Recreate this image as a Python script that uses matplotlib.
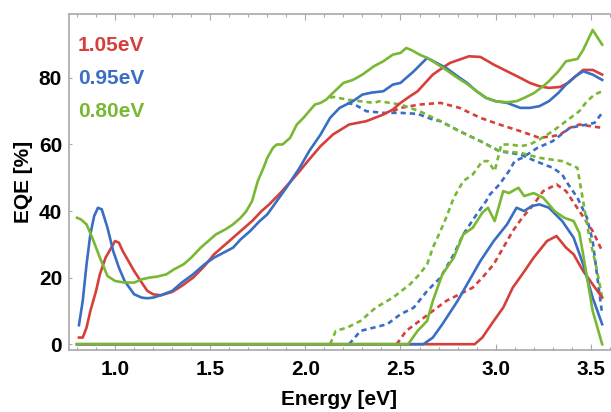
import matplotlib
matplotlib.use("Agg")
import matplotlib.pyplot as plt
from matplotlib.ticker import MultipleLocator

plt.rcParams["font.family"] = ["Liberation Sans", "DejaVu Sans"]

RED = "#d6403a"
BLUE = "#3a6ec4"
GREEN = "#79b833"

labels = ["1.05eV", "0.95eV", "0.80eV"]

# ---- total EQE (solid) ----
e_red_tot = [0.81, 0.83, 0.85, 0.87, 0.90, 0.92, 0.95, 0.97, 1.00, 1.02, 1.04, 1.07, 1.10, 1.14, 1.17,
             1.20, 1.24, 1.30, 1.35, 1.41, 1.47, 1.52, 1.57, 1.62, 1.67, 1.72, 1.77, 1.81, 1.87, 1.94,
             1.97, 2.02, 2.08, 2.145, 2.23, 2.32, 2.41, 2.46, 2.50, 2.55, 2.59, 2.63, 2.67, 2.72, 2.76,
             2.81, 2.86, 2.92, 2.96, 2.99, 3.06, 3.13, 3.18, 3.23, 3.28, 3.34, 3.38, 3.41, 3.46, 3.51, 3.56]
q_red_tot = [2, 2, 5, 10, 16, 21, 26, 28, 31, 30.5, 28, 25, 22, 18.5, 16,
             15, 14.7, 15.7, 17.5, 20, 23.5, 27, 29.5, 32, 34.5, 37, 40, 42, 45.5, 50,
             52, 55.5, 59.5, 63, 66, 67, 69, 70.5, 72.5, 74.5, 76, 78.5, 81, 83, 84.5,
             85.5, 86.5, 86.3, 85, 84, 82, 80, 78.5, 77.5, 77, 77.3, 78.5, 80, 82.4, 82.4, 81]

e_blue_tot = [0.81, 0.83, 0.85, 0.87, 0.89, 0.91, 0.93, 0.96, 0.99, 1.02, 1.05, 1.10, 1.14, 1.17, 1.20,
              1.24, 1.30, 1.35, 1.41, 1.47, 1.52, 1.57, 1.62, 1.66, 1.71, 1.76, 1.80, 1.85, 1.90, 1.97,
              2.02, 2.08, 2.13, 2.18, 2.25, 2.30, 2.35, 2.41, 2.46, 2.50, 2.57, 2.64, 2.69, 2.74, 2.80,
              2.85, 2.90, 2.95, 3.00, 3.06, 3.13, 3.18, 3.23, 3.28, 3.33, 3.37, 3.42, 3.46, 3.51, 3.56]
q_blue_tot = [5.7, 13, 24, 33, 38.5, 41, 40.5, 35, 28, 23, 19, 15, 14, 13.8, 14,
              14.7, 16, 18.5, 21, 24, 26, 27.5, 29, 31.5, 34, 37, 39, 43, 47, 53,
              58, 63, 68, 71, 73, 75, 75.6, 76, 78, 78.5, 82, 86, 84.5, 83, 80.5,
              78.5, 76, 74, 73, 72.5, 71, 71, 71.5, 73, 75.5, 78, 80.5, 82, 81, 79.4]

e_green_tot = [0.80, 0.82, 0.85, 0.88, 0.92, 0.96, 1.00, 1.04, 1.10, 1.14, 1.18, 1.22, 1.27, 1.31, 1.36,
               1.40, 1.45, 1.49, 1.53, 1.58, 1.62, 1.66, 1.69, 1.72, 1.75, 1.78, 1.80, 1.83, 1.85, 1.88,
               1.92, 1.955, 1.99, 2.02, 2.05, 2.08, 2.11, 2.145, 2.20, 2.25, 2.30, 2.36, 2.41, 2.46, 2.50,
               2.53, 2.56, 2.60, 2.64, 2.67, 2.74, 2.80, 2.85, 2.90, 2.95, 3.00, 3.06, 3.11, 3.15, 3.20,
               3.25, 3.28, 3.33, 3.37, 3.43, 3.46, 3.51, 3.56]
q_green_tot = [38, 37.5, 36, 32, 26, 20.5, 19, 18.6, 18.5, 19.5, 20, 20.3, 21, 22.5, 24,
               26, 29, 31, 33, 34.5, 36, 38, 40, 43, 49, 53, 56, 59, 60, 60,
               62, 66, 68, 70, 72, 72.5, 73.5, 75.5, 78.5, 79.4, 81, 83.5, 85, 87, 87.5,
               89, 88.3, 87, 86, 85, 82.4, 80, 78.2, 76, 74, 73, 72.7, 73, 74, 75.4,
               77.5, 79, 82, 85, 85.7, 88.4, 94.4, 90]

# ---- sub-cell EQE (solid) ----
e_red_sub = [0.80, 2.89, 2.93, 2.99, 3.04, 3.09, 3.14, 3.20, 3.27, 3.32, 3.37, 3.41, 3.46, 3.51, 3.56]
q_red_sub = [0, 0, 2, 7, 11, 17, 21, 26, 31, 32.5, 29, 27, 22, 18, 14]

e_blue_sub = [0.80, 2.62, 2.67, 2.72, 2.80, 2.85, 2.92, 2.99, 3.06, 3.11, 3.15, 3.19, 3.23, 3.28, 3.35,
              3.41, 3.46, 3.51, 3.56]
q_blue_sub = [0, 0, 2, 6, 13, 18, 25, 31, 36, 41, 40, 41.5, 42, 41, 37,
              32, 24, 14, 6]

e_green_sub = [0.80, 2.54, 2.59, 2.64, 2.67, 2.72, 2.78, 2.83, 2.88, 2.93, 2.96, 2.995, 3.04, 3.07, 3.12,
               3.15, 3.20, 3.25, 3.31, 3.36, 3.41, 3.44, 3.46, 3.51, 3.56]
q_green_sub = [0, 0, 4, 7, 13, 21, 26, 33, 35, 39.5, 41, 37, 46, 45.4, 47,
               44.5, 45.4, 44, 40, 38, 37, 33.4, 27, 10, 0]

# ---- simulated curves (dashed), falling branch ----
e_red_fall = [2.46, 2.50, 2.60, 2.71, 2.81, 2.92, 3.02, 3.13, 3.23, 3.30, 3.34, 3.39, 3.44, 3.50, 3.56]
q_red_fall = [70, 71, 72, 72.5, 71, 68, 66, 64, 62, 62.5, 63, 65, 66, 65.5, 65]

e_blue_fall = [2.22, 2.26, 2.32, 2.41, 2.50, 2.59, 2.67, 2.71, 2.81, 2.92, 3.02, 3.13, 3.21, 3.30, 3.35,
               3.37, 3.43, 3.48, 3.51, 3.56]
q_blue_fall = [72.5, 72, 70, 69.5, 69.5, 69.2, 67.5, 67, 64, 61, 58, 57, 55, 53, 51,
               49, 44, 38, 31, 9]

e_green_fall = [2.13, 2.145, 2.23, 2.36, 2.39, 2.50, 2.60, 2.71, 2.81, 2.92, 3.02, 3.13, 3.23, 3.35, 3.43,
                3.46, 3.49, 3.53, 3.56]
q_green_fall = [74, 74.3, 73.4, 72.5, 73, 72, 70, 67, 64, 61, 58, 57.5, 56, 55, 53,
                43, 33, 23, 14]

# ---- simulated curves (dashed), rising branch ----
e_red_rise = [2.48, 2.53, 2.60, 2.67, 2.74, 2.81, 2.88, 2.93, 2.99, 3.04, 3.09, 3.14, 3.20, 3.25, 3.32,
              3.37, 3.44, 3.51, 3.56]
q_red_rise = [0, 4, 7, 10, 13, 15, 17, 20, 24, 29, 34, 38, 42, 46, 48,
              46, 40, 34, 28]

e_blue_rise = [2.23, 2.29, 2.36, 2.43, 2.50, 2.57, 2.64, 2.71, 2.78, 2.83, 2.90, 2.95, 2.97, 3.02, 3.07,
               3.10, 3.14, 3.22, 3.30, 3.39, 3.48, 3.52, 3.56]
q_blue_rise = [0, 4, 5, 6, 9, 11, 16, 20, 27, 33, 39, 43, 45, 48, 52,
               55, 56, 59, 61, 65, 66, 66.5, 69.5]

e_green_rise = [2.13, 2.16, 2.22, 2.29, 2.37, 2.46, 2.55, 2.60, 2.64, 2.67, 2.71, 2.74, 2.78, 2.83, 2.88,
                2.93, 2.96, 2.995, 3.03, 3.08, 3.13, 3.18, 3.23, 3.30, 3.37, 3.44, 3.48, 3.52, 3.56]
q_green_rise = [0, 4, 5, 7, 11, 14, 18, 21, 24, 29, 34, 38, 44, 49, 51,
                55, 55, 52, 60, 60, 59.5, 60, 61.5, 64, 67, 70, 73, 75, 76]

fig = plt.figure(figsize=(6.11, 4.12), dpi=100)
ax = fig.add_axes([0.113, 0.150, 0.885, 0.816])

lw = 1.9
dash = (0, (2.0, 1.5))
dashed = [
    (e_red_fall, q_red_fall, RED), (e_red_rise, q_red_rise, RED),
    (e_blue_fall, q_blue_fall, BLUE), (e_blue_rise, q_blue_rise, BLUE),
    (e_green_fall, q_green_fall, GREEN), (e_green_rise, q_green_rise, GREEN),
]
for e, q, c in dashed:
    ax.plot(e, q, color=c, lw=lw, linestyle=dash, solid_capstyle="butt")

solid = [
    (e_red_sub, q_red_sub, RED), (e_blue_sub, q_blue_sub, BLUE), (e_green_sub, q_green_sub, GREEN),
    (e_red_tot, q_red_tot, RED), (e_blue_tot, q_blue_tot, BLUE), (e_green_tot, q_green_tot, GREEN),
]
for e, q, c in solid:
    ax.plot(e, q, color=c, lw=lw, solid_joinstyle="round")

ax.set_xlim(0.758, 3.6)
ax.set_ylim(-1.8, 99.2)

ax.xaxis.set_minor_locator(MultipleLocator(0.1))
ax.yaxis.set_major_locator(MultipleLocator(20))
ax.set_xticks([1.0, 1.5, 2.0, 2.5, 3.0, 3.5])
ax.set_xticklabels(["1.0", "1.5", "2.0", "2.5", "3.0", "3.5"])

for s in ["left", "bottom", "top"]:
    ax.spines[s].set_color("#a8a8a8")
    ax.spines[s].set_linewidth(1.2)
ax.spines["right"].set_visible(False)

ax.tick_params(axis="x", which="both", direction="in", top=True, bottom=True,
               color="#a8a8a8", width=0.8)
ax.tick_params(axis="x", which="major", length=4, pad=7)
ax.tick_params(axis="x", which="minor", length=2.5)
ax.tick_params(axis="y", which="both", direction="in", length=2.5, color="#a8a8a8",
               width=0.8, pad=5)

for t in ax.get_xticklabels() + ax.get_yticklabels():
    t.set_fontsize(15)
    t.set_fontweight("bold")

ax.set_xlabel("Energy [eV]", fontsize=15, fontweight="bold", labelpad=8)
ax.set_ylabel("EQE [%]", fontsize=15, fontweight="bold", labelpad=4)

for i, (lab, c) in enumerate(zip(labels, [RED, BLUE, GREEN])):
    ax.text(0.016, 0.905 - i * 0.098, lab, transform=ax.transAxes, color=c,
            fontsize=15, fontweight="bold", va="center", ha="left")

fig.savefig("out.png", dpi=100)
